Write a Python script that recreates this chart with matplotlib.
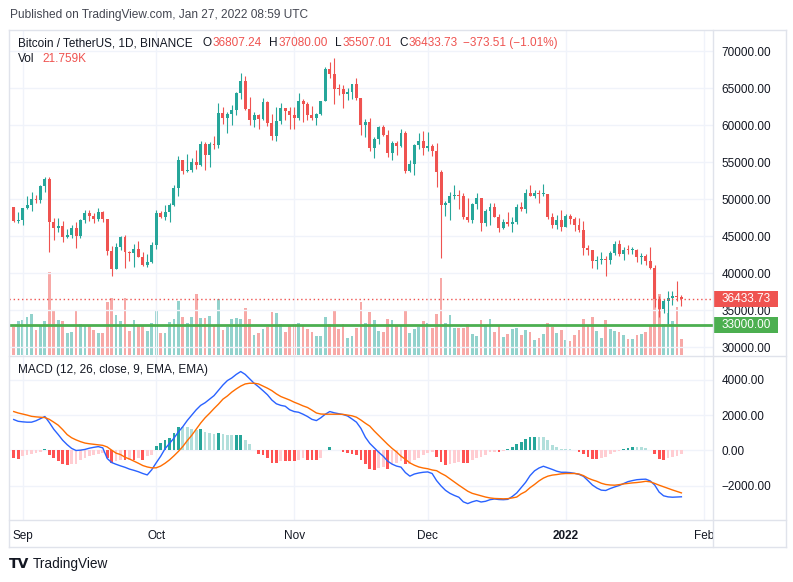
import matplotlib
matplotlib.use("Agg")
import matplotlib.pyplot as plt
import matplotlib.transforms as mtransforms
from matplotlib.patches import Rectangle
from matplotlib.lines import Line2D
import numpy as np
import pandas as pd

plt.rcParams['font.family'] = ['Liberation Sans', 'DejaVu Sans']

# ---------------- data ----------------
start_date = "2021-08-30"

opens = [48900, 46990, 47100, 48810, 49250, 49940, 49900, 51760, 52660, 46860,
         46060, 46400, 44850, 45170, 46030, 44960, 47130, 48140, 47750, 47300,
         48300, 47260, 42980, 40600, 43570, 44900, 42840, 42700, 43180, 42170,
         41030, 41520, 43790, 48140, 47630, 48200, 49220, 51470, 55320, 53790,
         53950, 54950, 54660, 57480, 56000, 57370, 57350, 61670, 60880, 61530,
         62010, 64280, 66000, 62210, 60690, 61290, 60850, 63080, 60330, 58450,
         60590, 62250, 61860, 61300, 60900, 63220, 62900, 61400, 61000, 61500,
         63270, 67530, 66940, 64880, 64800, 64150, 64400, 65500, 63600, 60060,
         60360, 56890, 58050, 59710, 58620, 56250, 57570, 57180, 58960, 53730,
         54720, 57270, 57800, 56950, 57190, 56480, 53600, 49150, 49400, 50440,
         50590, 50470, 47550, 47140, 49390, 50100, 46700, 48340, 48880, 47630,
         46130, 46830, 46680, 46910, 48930, 48630, 50820, 50400, 50780, 50700,
         50700, 47540, 46460, 47120, 46220, 47720, 47290, 46440, 45830, 43430,
         43080, 41560, 41730, 41870, 41820, 42740, 43920, 42560, 43080, 43070,
         43110, 42200, 42350, 41660, 40680, 36450, 35070, 36280, 36650, 36950,
         36807.24]
highs = [48910, 48250, 48850, 50400, 51000, 50560, 51900, 52920, 52920, 47380,
         47400, 47040, 45990, 46460, 46880, 47250, 48500, 48490, 48160, 48820,
         48370, 47330, 43640, 44000, 44980, 45200, 42960, 43950, 44350, 42790,
         42600, 44130, 48500, 48350, 49230, 49500, 51890, 55750, 55330, 56100,
         55490, 56560, 57840, 57680, 57700, 58530, 62930, 62400, 61700, 62700,
         64490, 67000, 66640, 63730, 61750, 61490, 63710, 63290, 61500, 62500,
         62980, 62360, 62440, 62440, 64270, 63500, 63090, 62600, 61560, 63280,
         67790, 68530, 69000, 65580, 65470, 64970, 65500, 66400, 63620, 60820,
         60980, 58370, 59850, 60050, 59270, 57880, 57800, 59400, 59180, 55330,
         57450, 58870, 59180, 59050, 57380, 57600, 53860, 49700, 50900, 51930,
         51200, 50800, 50100, 49480, 50800, 50200, 48700, 49500, 49430, 48000,
         47360, 48300, 47540, 49330, 49580, 51380, 51860, 51200, 51280, 52090,
         50700, 48150, 47900, 48550, 47950, 47990, 47570, 47500, 47070, 43750,
         43150, 42300, 42790, 42250, 43000, 44350, 44450, 43450, 43800, 43480,
         43180, 42690, 42560, 43500, 41100, 36840, 36500, 37550, 37550, 38920,
         37080.00]
lows = [46860, 46700, 46500, 48600, 48350, 49400, 49500, 50960, 42800, 44400,
        45500, 44140, 44750, 44750, 43370, 44750, 46700, 47030, 46760, 47050,
        46850, 42500, 39600, 40550, 43100, 40700, 41650, 40800, 42100, 40900,
        40750, 41400, 43280, 47430, 47100, 46890, 49000, 50380, 53360, 53620,
        53660, 54090, 54420, 53880, 54300, 56820, 56850, 60150, 58960, 60000,
        61330, 63480, 62000, 60000, 59700, 59520, 60650, 59820, 58000, 57820,
        60170, 60720, 59500, 59400, 60620, 60380, 60680, 60720, 60000, 61320,
        63270, 66380, 62800, 64100, 62330, 63400, 63580, 63400, 58600, 58370,
        56470, 55600, 57420, 58470, 55610, 55320, 55990, 57000, 53500, 53670,
        53260, 56700, 56000, 56480, 55840, 51680, 42000, 47730, 47100, 50050,
        48600, 47320, 46850, 46750, 48640, 45670, 46300, 46550, 47540, 45500,
        45950, 46400, 45560, 46630, 48420, 48050, 50400, 50200, 49420, 50450,
        47310, 46060, 45900, 45680, 46200, 46650, 45700, 45500, 42500, 42450,
        40610, 40500, 41200, 39650, 41270, 42450, 42300, 41720, 42600, 42580,
        41540, 41250, 41140, 40550, 35440, 34010, 34600, 32920, 35700, 36230,
        35507.01]
closes = [46990, 47100, 48810, 49250, 49940, 49900, 51760, 52660, 46860, 46060,
          46400, 44850, 45170, 46030, 44960, 47130, 48140, 47750, 47300, 48300,
          47260, 42980, 40600, 43570, 44900, 42840, 42700, 43180, 42170, 41030,
          41520, 43790, 48140, 47630, 48200, 49220, 51470, 55320, 53790, 53950,
          54950, 54660, 57480, 56000, 57370, 57350, 61670, 60880, 61530, 62010,
          64280, 66000, 62210, 60690, 61290, 60850, 63080, 60330, 58450, 60590,
          62250, 61860, 61300, 60900, 63220, 62900, 61400, 61000, 61500, 63270,
          67530, 66940, 64880, 64800, 64150, 64400, 65500, 63600, 60060, 60360,
          56890, 58050, 59710, 58620, 56250, 57570, 57180, 58960, 53730, 54720,
          57270, 57800, 56950, 57190, 56480, 53600, 49150, 49400, 50440, 50590,
          50470, 47550, 47140, 49390, 50100, 46700, 48340, 48880, 47630, 46130,
          46830, 46680, 46910, 48930, 48630, 50820, 50400, 50780, 50700, 50700,
          47540, 46460, 47120, 46220, 47720, 47290, 46440, 45830, 43430, 43080,
          41560, 41730, 41870, 41820, 42740, 43920, 42560, 43080, 43070, 43110,
          42200, 42350, 41660, 40680, 36450, 35070, 36280, 36650, 36950, 36810,
          36433.73]
volume_k = [39.4, 47.4, 48.8, 53.6, 57.3, 34.6, 40.2, 47.4, 117.6, 63.0,
            48.8, 47.4, 30.3, 31.7, 63.0, 43.1, 41.7, 40.2, 34.6, 30.3,
            30.3, 74.9, 80.1, 55.9, 47.4, 80.1, 33.1, 48.8, 40.2, 40.2,
            33.1, 44.5, 63.0, 30.3, 30.3, 45.9, 50.2, 75.8, 53.0, 44.5,
            53.0, 85.7, 51.6, 51.6, 54.5, 40.2, 78.6, 34.6, 38.8, 50.2,
            51.6, 50.2, 65.8, 50.2, 27.4, 30.3, 36.0, 38.8, 60.2, 58.7,
            43.1, 31.7, 40.2, 43.1, 44.5, 41.7, 36.0, 31.7, 26.0, 26.0,
            53.0, 43.1, 63.0, 36.0, 43.1, 23.2, 26.0, 37.4, 74.4, 44.5,
            60.2, 48.8, 33.1, 31.7, 50.2, 48.8, 40.2, 40.2, 63.0, 30.3,
            36.0, 38.8, 47.4, 44.5, 37.4, 57.3, 108.5, 44.5, 55.9, 37.4,
            37.4, 37.4, 43.1, 28.9, 26.0, 48.8, 40.2, 50.2, 31.7, 40.2,
            24.6, 28.9, 36.0, 37.4, 27.4, 34.6, 31.7, 20.3, 23.2, 28.9,
            44.5, 38.8, 30.3, 34.6, 20.3, 18.9, 27.4, 34.6, 50.2, 40.2,
            53.0, 33.1, 23.2, 48.8, 36.0, 33.1, 31.7, 27.4, 21.8, 21.8,
            27.4, 28.9, 31.7, 40.2, 84.3, 85.7, 43.1, 58.7, 47.4, 67.3,
            21.759]
macd_line = [1750, 1650, 1620, 1600, 1600, 1680, 1800, 1920, 1580, 1200,
             900, 580, 330, 120, 0, 20, 60, 130, 180, 220,
             150, -450, -680, -780, -870, -950, -1050, -1120, -1200, -1300,
             -1380, -1090, -700, -330, 100, 400, 700, 1050, 1350, 1700,
             2000, 2300, 2550, 2700, 2900, 3100, 3400, 3700, 3950, 4100,
             4300, 4460, 4300, 4050, 3800, 3600, 3380, 3150, 2850, 2640,
             2550, 2500, 2300, 2200, 2160, 2050, 1920, 1760, 1690, 1850,
             2050, 2200, 2130, 2080, 2030, 1950, 1780, 1600, 1250, 750,
             400, 150, -100, -320, -600, -770, -880, -940, -1250, -1450,
             -1330, -1270, -1230, -1210, -1300, -1700, -2000, -2250, -2420, -2540,
             -2640, -2900, -3000, -2900, -2830, -2910, -2870, -2780, -2740, -2770,
             -2780, -2760, -2600, -2400, -2100, -1800, -1420, -1150, -990, -890,
             -980, -1070, -1170, -1230, -1230, -1250, -1290, -1350, -1460, -1700,
             -1950, -2120, -2240, -2260, -2150, -2060, -1980, -1870, -1760, -1700,
             -1650, -1630, -1620, -1720, -1950, -2350, -2560, -2620, -2640, -2630,
             -2615.95]
signal_line = [2200, 2120, 2060, 2000, 1930, 1900, 1880, 1860, 1760, 1600,
               1430, 1180, 900, 720, 600, 500, 420, 380, 350, 320,
               290, 200, 20, -150, -230, -380, -480, -600, -720, -850,
               -930, -980, -980, -880, -720, -530, -300, -50, 230, 560,
               860, 1200, 1550, 1850, 2100, 2370, 2620, 2900, 3080, 3300,
               3480, 3640, 3760, 3800, 3800, 3760, 3640, 3520, 3380, 3200,
               3050, 2950, 2850, 2730, 2630, 2520, 2430, 2280, 2120, 2060,
               2050, 2050, 2050, 2050, 2040, 2000, 1960, 1880, 1720, 1540,
               1375, 1100, 850, 600, 350, 120, -80, -320, -500, -700,
               -830, -930, -990, -1030, -1100, -1140, -1290, -1420, -1600, -1780,
               -1960, -2130, -2300, -2420, -2490, -2560, -2630, -2680, -2710, -2720,
               -2730, -2720, -2680, -2630, -2450, -2320, -2100, -1920, -1720, -1560,
               -1450, -1390, -1360, -1320, -1300, -1300, -1300, -1330, -1420, -1560,
               -1660, -1740, -1850, -1920, -1950, -1960, -1930, -1890, -1860, -1830,
               -1810, -1780, -1740, -1770, -1860, -1960, -2050, -2140, -2230, -2310,
               -2394.93]
histogram = [-450, -470, -320, -230, -190, -130, -75, 95, -230, -450,
             -600, -790, -830, -790, -750, -510, -410, -320, -230, -190,
             -130, -450, -700, -600, -565, -565, -510, -510, -450, -510,
             -320, -230, 245, 430, 565, 715, 1000, 1320, 1320, 1320,
             1240, 1130, 1190, 1035, 1000, 940, 980, 960, 900, 850,
             885, 900, 620, 340, 55, -190, -230, -410, -700, -700,
             -600, -600, -600, -600, -510, -450, -565, -565, -565, -410,
             0, 190, 55, 20, -95, -130, -190, -230, -565, -790,
             -1073, -1110, -1017, -940, -1073, -750, -700, -600, -790, -750,
             -510, -410, -230, -150, -75, -380, -640, -830, -750, -700,
             -640, -700, -700, -565, -410, -380, -230, -95, -75, -75,
             -40, 75, 190, 340, 490, 640, 750, 790, 790, 790,
             565, 300, 190, 95, 95, 75, 40, -75, -190, -380,
             -490, -490, -450, -380, -190, -75, -40, 75, 113, 170,
             170, 170, 113, 40, -190, -490, -545, -450, -380, -300,
             -221.02]

month_ticks = ["2021-09-01", "2021-10-01", "2021-11-01", "2021-12-01", "2022-01-01", "2022-02-01"]
month_labels = ["Sep", "Oct", "Nov", "Dec", "2022", "Feb"]
price_ticks = [30000, 35000, 40000, 45000, 50000, 55000, 60000, 65000, 70000]
macd_ticks = [-2000, 0, 2000, 4000]
level_price = 33000
last_change = "\u2212373.51 (\u22121.01%)"

# ---------------- style ----------------
GREEN = '#26a69a'
RED = '#ef5350'
VGREEN = '#92d2cc'
VRED = '#f7a9a7'
GRID = '#f0f3fa'
BORDER = '#e0e3eb'
TEXT = '#131722'
LEVEL = '#4caf50'
FS = 8.5

W, H = 793, 582
fig = plt.figure(figsize=(W / 100, H / 100), dpi=100)
fig.patch.set_facecolor('white')


def rect(l, t, r, b):
    return [l / W, 1 - b / H, (r - l) / W, (b - t) / H]


PL, PR, PT, PB, MB = 9, 713, 30, 356, 520
vol_ax = fig.add_axes(rect(PL, PT, PR, PB))
price_ax = fig.add_axes(rect(PL, PT, PR, PB), sharex=vol_ax)
macd_ax = fig.add_axes(rect(PL, PB, PR, MB), sharex=vol_ax)
price_ax.patch.set_alpha(0)

dates = pd.date_range(start_date, periods=len(closes), freq="D")
x = np.asarray((dates - dates[0]).days, dtype=float)
tick_x = [(pd.Timestamp(d) - dates[0]).days for d in month_ticks]

o = np.array(opens, float)
h = np.array(highs, float)
l = np.array(lows, float)
c = np.array(closes, float)
up = c >= o
ccol = np.where(up, GREEN, RED)

x_lim = (-1.06, 157.1)
p_lim = (28784, 72838)
v_lim = (-2.1, 461.5)
m_lim = (-3927, 5339)

# volume
vol_ax.bar(x, volume_k, width=0.62, color=np.where(up, VGREEN, VRED), linewidth=0)
vol_ax.set_ylim(*v_lim)
vol_ax.set_xlim(*x_lim)
vol_ax.axis('off')

# candles
units_per_px = (p_lim[1] - p_lim[0]) / (PB - PT)
body = np.maximum(np.abs(c - o), units_per_px)
price_ax.vlines(x, l, h, colors=ccol, linewidth=0.8, zorder=2)
price_ax.bar(x, body, bottom=np.minimum(o, c), width=0.66, color=ccol, linewidth=0, zorder=3)
price_ax.axhline(c[-1], color=RED, linestyle=(0, (1, 2)), linewidth=1, zorder=4)
price_ax.axhline(level_price, color=LEVEL, linewidth=2, zorder=4)
price_ax.set_ylim(*p_lim)
price_ax.yaxis.tick_right()
price_ax.set_yticks(price_ticks)
price_ax.set_yticklabels([f"{p:.2f}" for p in price_ticks])
price_ax.tick_params(axis='y', length=0, pad=6.3, labelsize=FS, labelcolor=TEXT)
price_ax.tick_params(axis='x', length=0, labelbottom=False)
price_ax.grid(True, color=GRID, linewidth=1, zorder=0)

# price label boxes on the axis
blend = mtransforms.blended_transform_factory(price_ax.transAxes, price_ax.transData)
for value, colr in [(c[-1], RED), (level_price, LEVEL)]:
    price_ax.add_patch(Rectangle((1.0, value - 8 * units_per_px), 65 / (PR - PL), 16 * units_per_px,
                                 transform=blend, facecolor=colr, edgecolor='none',
                                 clip_on=False, zorder=10))
    price_ax.text(1.0 + 9 / (PR - PL), value, f"{value:.2f}", transform=blend, color='white',
                  fontsize=FS, va='center', ha='left', clip_on=False, zorder=11)

# MACD
hist = np.array(histogram, float)
prev = np.r_[hist[0], hist[:-1]]
hcol = np.where(hist >= 0,
                np.where(hist > prev, '#26a69a', '#b2dfdb'),
                np.where(hist > prev, '#ffcdd2', '#ff5252'))
macd_ax.bar(x, hist, width=0.62, color=hcol, linewidth=0, zorder=2)
macd_ax.plot(x, macd_line, color='#2962ff', linewidth=1, zorder=3)
macd_ax.plot(x, signal_line, color='#ff6d00', linewidth=1, zorder=3)
macd_ax.set_ylim(*m_lim)
macd_ax.yaxis.tick_right()
macd_ax.set_yticks(macd_ticks)
macd_ax.set_yticklabels([f"{v:.2f}".replace('-', '\u2212') for v in macd_ticks])
macd_ax.tick_params(axis='y', length=0, pad=6.3, labelsize=FS, labelcolor=TEXT)
macd_ax.set_xticks(tick_x)
macd_ax.set_xticklabels(month_labels)
macd_ax.tick_params(axis='x', length=0, pad=7, labelsize=FS, labelcolor=TEXT)
for lab in macd_ax.get_xticklabels():
    if lab.get_text() == "2022":
        lab.set_fontweight('bold')
macd_ax.grid(True, color=GRID, linewidth=1, zorder=0)
macd_ax.set_xlim(*x_lim)

for ax in (vol_ax, price_ax, macd_ax):
    for s in ax.spines.values():
        s.set_visible(False)

# frame / separators
def fline(x1, y1, x2, y2):
    fig.add_artist(Line2D([x1 / W, x2 / W], [1 - y1 / H, 1 - y2 / H], color=BORDER, linewidth=1))

fline(PL, PT, 786, PT)
fline(PL, 547, 786, 547)
fline(PL, PT, PL, 547)
fline(786, PT, 786, 547)
fline(PR, PT, PR, 547)
fline(PL, PB, 786, PB)
fline(PL, MB, 786, MB)

# texts
fig.text(10 / W, 1 - 15 / H, "Published on TradingView.com, Jan 27, 2022 08:59 UTC",
         fontsize=8.6, color='#434651', va='center', ha='left')


def chain(parts, x_px, y_px, size=FS):
    first, colr, _ = parts[0]
    prev = fig.text(x_px / W, 1 - y_px / H, first, color=colr, fontsize=size, va='center', ha='left')
    for s, colr, gap in parts[1:]:
        prev = price_ax.annotate(s, xy=(1, 0.5), xycoords=prev, xytext=(gap, 0),
                                 textcoords='offset points', color=colr, fontsize=size,
                                 va='center', ha='left', annotation_clip=False)
    return prev


chain([("Bitcoin / TetherUS, 1D, BINANCE", TEXT, 0),
       ("O", TEXT, 7),
       (f"{opens[-1]:.2f}", RED, 0.5),
       ("H", TEXT, 5.5),
       (f"{highs[-1]:.2f}", RED, 0.5),
       ("L", TEXT, 5.5),
       (f"{lows[-1]:.2f}", RED, 0.5),
       ("C", TEXT, 5.5),
       (f"{closes[-1]:.2f}", RED, 0.5),
       (last_change, RED, 3.5)], 18, 43)
chain([("Vol", TEXT, 0), (f"{volume_k[-1]:.3f}K", RED, 6)], 18, 59)
chain([("MACD (12, 26, close, 9, EMA, EMA)", TEXT, 0),
       (f"{histogram[-1]:.2f}".replace('-', '\u2212'), '#f6b9be', 6),
       (f"{macd_line[-1]:.2f}".replace('-', '\u2212'), '#2962ff', 6),
       (f"{signal_line[-1]:.2f}".replace('-', '\u2212'), '#ff6d00', 6)], 18, 370)

fig.text(9 / W, 1 - 564 / H, "TV", fontsize=10, fontweight='heavy', color=TEXT,
         va='center', ha='left', family='DejaVu Sans')
fig.text(33 / W, 1 - 564 / H, "TradingView", fontsize=9.8, color=TEXT, va='center', ha='left')

fig.savefig("out.png", dpi=100, facecolor='white')
